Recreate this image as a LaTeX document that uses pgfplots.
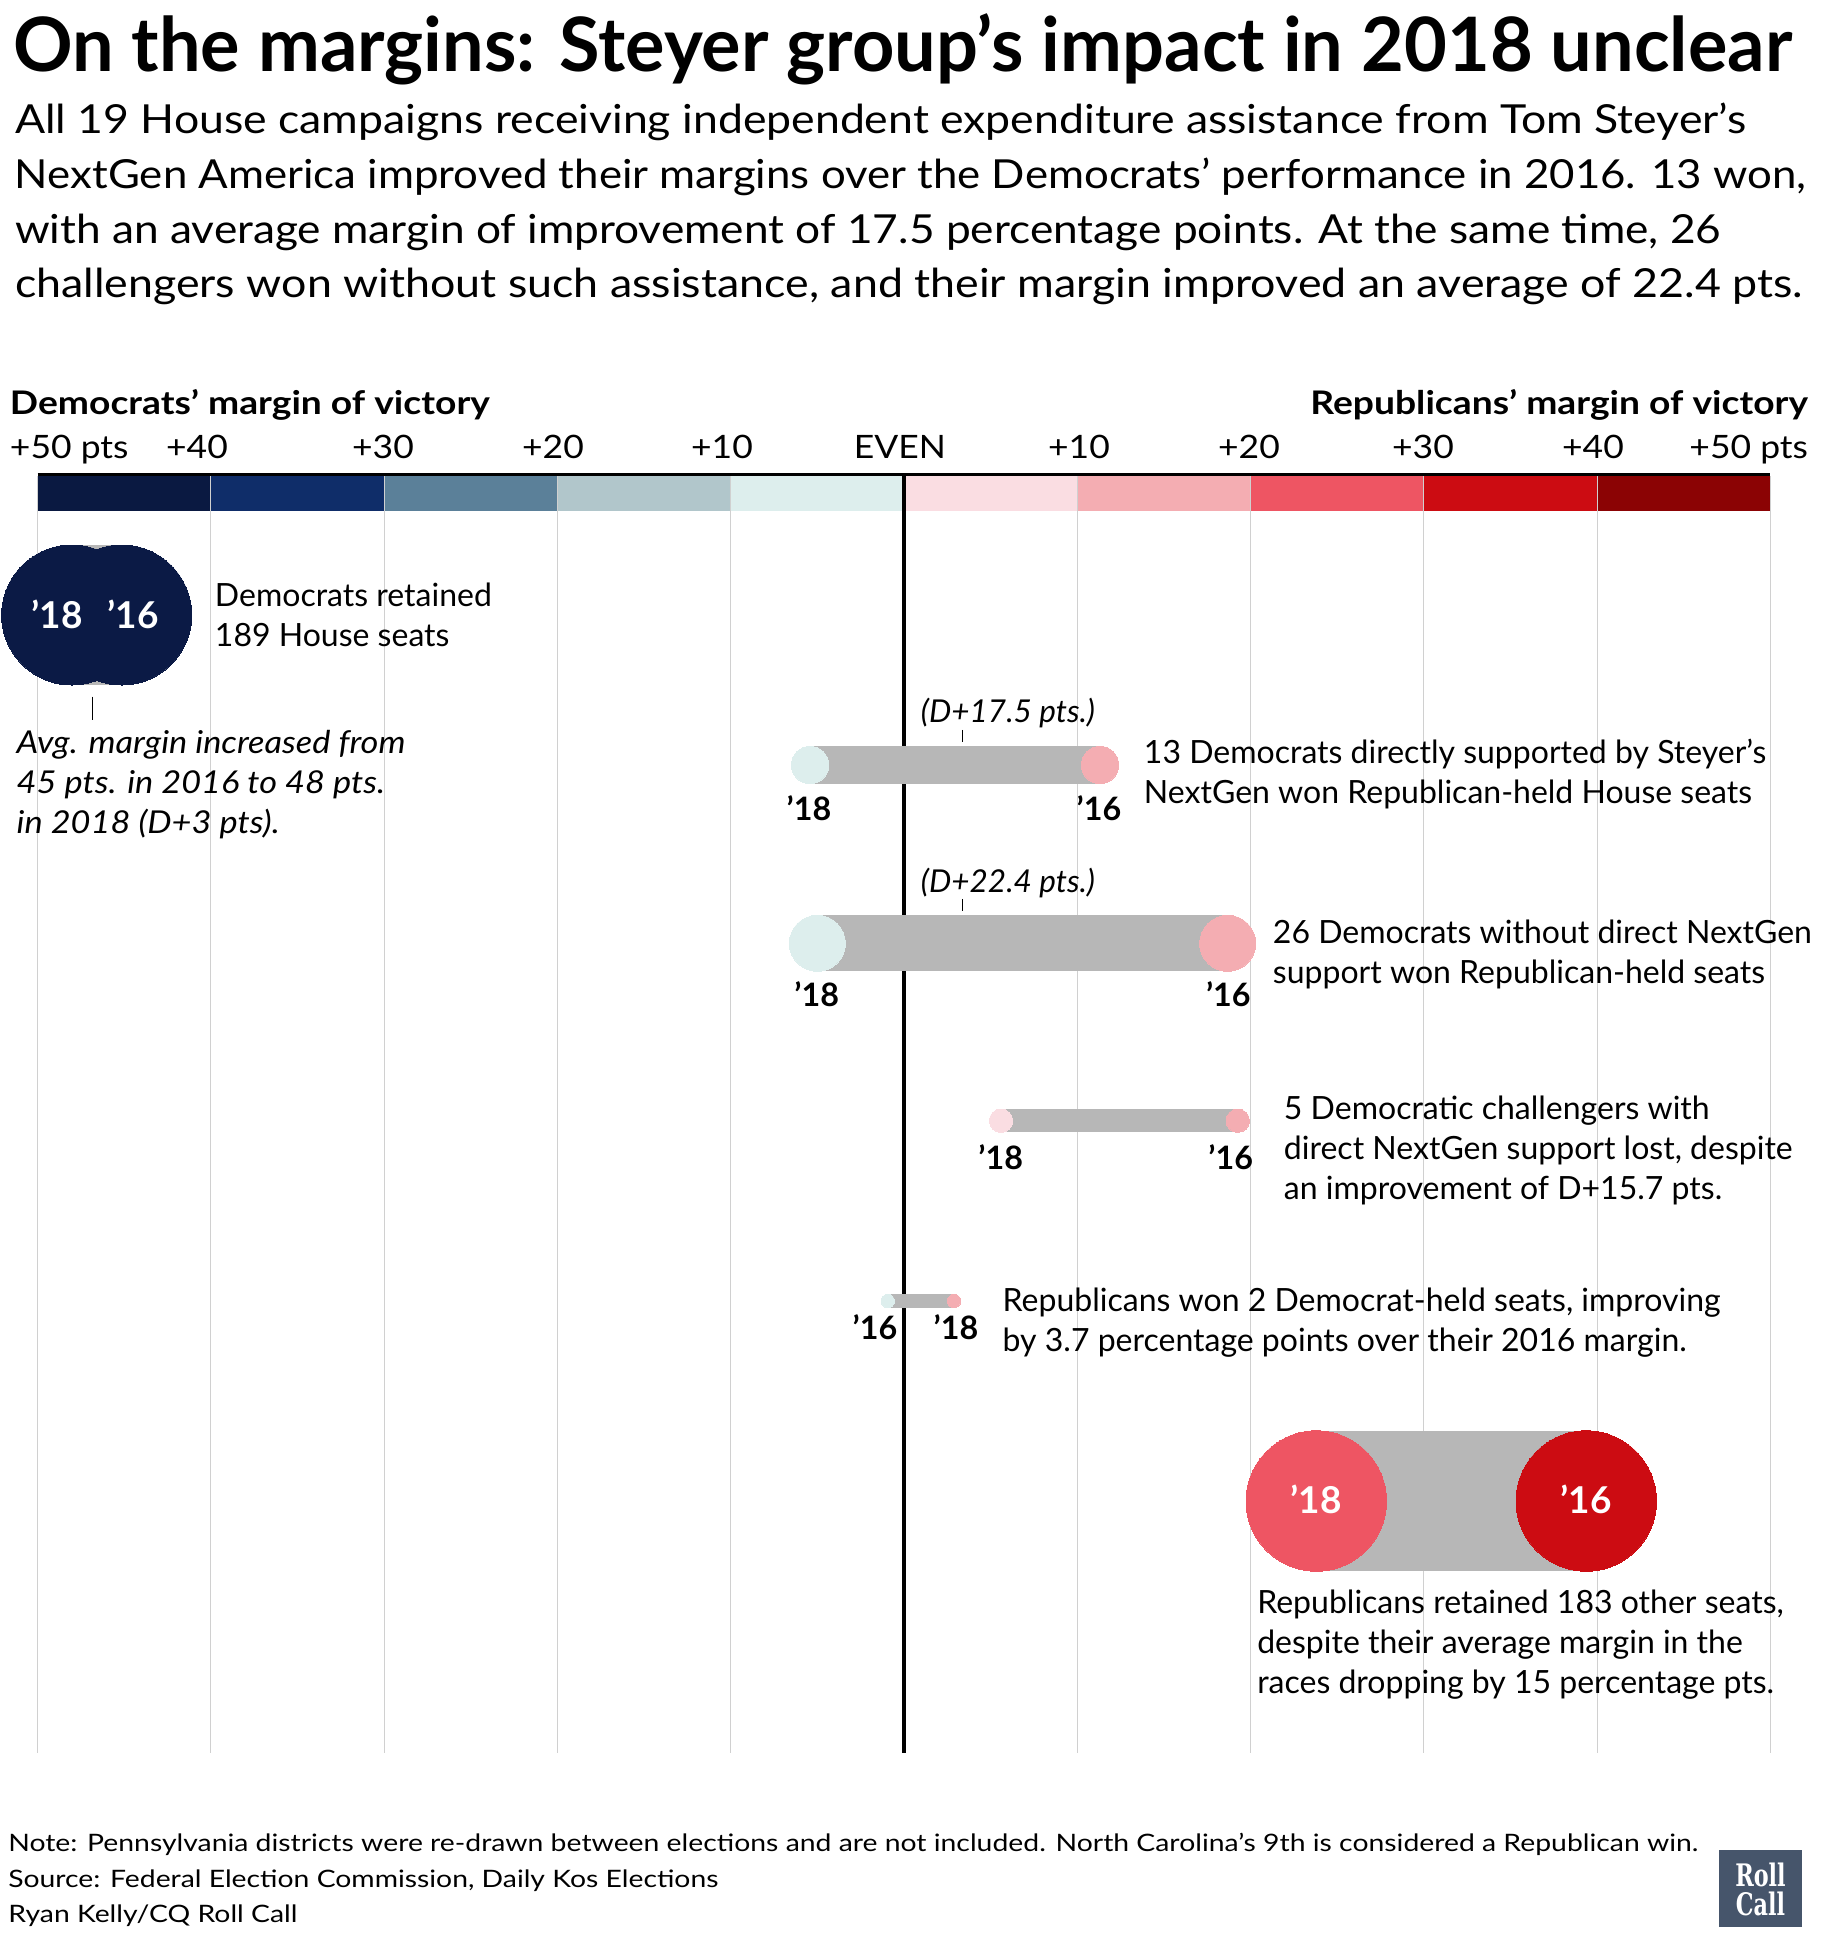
\documentclass[border=0pt]{standalone}
\usepackage{fontspec}
\setmainfont{Lato}
\newfontfamily\logofont{DejaVu Serif}
\usepackage{graphicx}
\usepackage{pgfplots}
\pgfplotsset{compat=1.18}

\definecolor{c1}{HTML}{0A1941}
\definecolor{c2}{HTML}{0F2D69}
\definecolor{c3}{HTML}{5B8099}
\definecolor{c4}{HTML}{B1C6CB}
\definecolor{c5}{HTML}{DDEEED}
\definecolor{c6}{HTML}{FADDE2}
\definecolor{c7}{HTML}{F4ADB2}
\definecolor{c8}{HTML}{EE5563}
\definecolor{c9}{HTML}{CC0C12}
\definecolor{c10}{HTML}{8B0304}
\definecolor{barg}{HTML}{B7B7B7}
\definecolor{gridc}{HTML}{D0D0D0}
\definecolor{navy}{HTML}{0B1A45}
\definecolor{logoc}{HTML}{46556B}

% font sizes (1 px of the reference = 0.4pt)
\newcommand\fnote{\fontsize{12.8}{16}\selectfont}
\newcommand\ftick{\fontsize{12.9}{16}\selectfont}
\newcommand\fit{\fontsize{12.6}{16}\selectfont\itshape}
\newcommand\flab{\fontsize{12.9}{16}\selectfont\bfseries}
\newcommand\fbig{\fontsize{14.8}{18}\selectfont\bfseries}
\newcommand\fhead{\fontsize{13}{16}\selectfont\bfseries}
\newcommand\fsub{\fontsize{16}{20}\selectfont}
\newcommand\ffoot{\fontsize{9.6}{12}\selectfont}
\newcommand\hs[2]{\scalebox{#1}[1]{#2}}

\begin{document}
\begin{tikzpicture}
\begin{axis}[at={(0,0)}, anchor=south west, scale only axis,
    width=728.4pt, height=780pt,
    xmin=-52.164, xmax=52.914, ymin=0, ymax=1950, y dir=reverse,
    axis lines=none, ticks=none, clip=false]

% colour scale of margins
\fill[c1]  (axis cs:-50,476) rectangle (axis cs:-40,510.7);
\fill[c2]  (axis cs:-40,476) rectangle (axis cs:-30,510.7);
\fill[c3]  (axis cs:-30,476) rectangle (axis cs:-20,510.7);
\fill[c4]  (axis cs:-20,476) rectangle (axis cs:-10,510.7);
\fill[c5]  (axis cs:-10,476) rectangle (axis cs:0,510.7);
\fill[c6]  (axis cs:0,476) rectangle (axis cs:10,510.7);
\fill[c7]  (axis cs:10,476) rectangle (axis cs:20,510.7);
\fill[c8]  (axis cs:20,476) rectangle (axis cs:30,510.7);
\fill[c9]  (axis cs:30,476) rectangle (axis cs:40,510.7);
\fill[c10] (axis cs:40,476) rectangle (axis cs:50,510.7);

% grid
\addplot[gridc, line width=0.45pt] coordinates {(-50,476) (-50,1753)};
\addplot[gridc, line width=0.45pt] coordinates {(-40,476) (-40,1753)};
\addplot[gridc, line width=0.45pt] coordinates {(-30,476) (-30,1753)};
\addplot[gridc, line width=0.45pt] coordinates {(-20,476) (-20,1753)};
\addplot[gridc, line width=0.45pt] coordinates {(-10,476) (-10,1753)};
\addplot[gridc, line width=0.45pt] coordinates {(10,476) (10,1753)};
\addplot[gridc, line width=0.45pt] coordinates {(20,476) (20,1753)};
\addplot[gridc, line width=0.45pt] coordinates {(30,476) (30,1753)};
\addplot[gridc, line width=0.45pt] coordinates {(40,476) (40,1753)};
\addplot[gridc, line width=0.45pt] coordinates {(50,476) (50,1753)};
\addplot[black, line width=1.1pt] coordinates {(-50,474.7) (50,474.7)};
\addplot[black, line width=1.4pt] coordinates {(0,473.5) (0,1753)};

% Democrats retained 189 seats
\addplot[barg, line width=56pt] coordinates {(-48.03,615) (-45.14,615)};
\addplot[only marks, mark=*, mark size=28pt, navy, mark options={line width=0pt}]
    coordinates {(-48.03,615) (-45.14,615)};

% 13 NextGen-supported winners
\addplot[barg, line width=14.96pt] coordinates {(-5.42,765) (11.31,765)};
\addplot[only marks, mark=*, mark size=7.48pt, c5, mark options={line width=0pt}]
    coordinates {(-5.42,765)};
\addplot[only marks, mark=*, mark size=7.48pt, c7, mark options={line width=0pt}]
    coordinates {(11.31,765)};

% 26 winners without NextGen
\addplot[barg, line width=22.4pt] coordinates {(-5.0,943.3) (18.68,943.3)};
\addplot[only marks, mark=*, mark size=11.2pt, c5, mark options={line width=0pt}]
    coordinates {(-5.0,943.3)};
\addplot[only marks, mark=*, mark size=11.2pt, c7, mark options={line width=0pt}]
    coordinates {(18.68,943.3)};

% 5 challengers lost
\addplot[barg, line width=9.36pt] coordinates {(5.6,1120.7) (19.26,1120.7)};
\addplot[only marks, mark=*, mark size=4.68pt, c6, mark options={line width=0pt}]
    coordinates {(5.6,1120.7)};
\addplot[only marks, mark=*, mark size=4.68pt, c7, mark options={line width=0pt}]
    coordinates {(19.26,1120.7)};

% Republicans won 2 Democrat-held seats
\addplot[barg, line width=5.36pt] coordinates {(-0.94,1301) (2.89,1301)};
\addplot[only marks, mark=*, mark size=2.68pt, c5, mark options={line width=0pt}]
    coordinates {(-0.94,1301)};
\addplot[only marks, mark=*, mark size=2.68pt, c7, mark options={line width=0pt}]
    coordinates {(2.89,1301)};

% Republicans retained 183 seats
\addplot[barg, line width=56.2pt] coordinates {(23.79,1501) (39.37,1501)};
\addplot[only marks, mark=*, mark size=28.1pt, c8, mark options={line width=0pt}]
    coordinates {(23.79,1501)};
\addplot[only marks, mark=*, mark size=28.1pt, c9, mark options={line width=0pt}]
    coordinates {(39.37,1501)};
\end{axis}

\begin{scope}[x=0.4pt, y=-0.4pt, shift={(0,780pt)}]
\tikzset{every node/.style={inner sep=0pt, outer sep=0pt}}
% title and subtitle
\node[anchor=base west] at (13,72) {\resizebox{711.6pt}{\height}{\fontsize{30}{34}\selectfont\bfseries On the margins: Steyer group’s impact in 2018 unclear}};
\node[anchor=base west] at (15,133.5) {\resizebox{692.4pt}{\height}{\fsub All 19 House campaigns receiving independent expenditure assistance from Tom Steyer’s}};
\node[anchor=base west] at (15,188.3) {\resizebox{716.4pt}{\height}{\fsub NextGen America improved their margins over the Democrats’ performance in 2016. 13 won,}};
\node[anchor=base west] at (15,243.2) {\resizebox{682.4pt}{\height}{\fsub with an average margin of improvement of 17.5 percentage points. At the same time, 26}};
\node[anchor=base west] at (15,298) {\resizebox{715.2pt}{\height}{\fsub challengers won without such assistance, and their margin improved an average of 22.4 pts.}};

% scale header
\node[anchor=base west, font=\fhead] at (10,415) {\hs{1.145}{Democrats’ margin of victory}};
\node[anchor=base east, font=\fhead] at (1808,415) {\hs{1.145}{Republicans’ margin of victory}};
\node[anchor=base west, font=\ftick] at (10,458.3) {\hs{1.1}{+50 pts}};
\node[anchor=base, font=\ftick] at (197,458.3) {\hs{1.1}{+40}};
\node[anchor=base, font=\ftick] at (383,458.3) {\hs{1.1}{+30}};
\node[anchor=base, font=\ftick] at (553,458.3) {\hs{1.1}{+20}};
\node[anchor=base, font=\ftick] at (722,458.3) {\hs{1.1}{+10}};
\node[anchor=base, font=\ftick] at (900,458.3) {\hs{1.1}{EVEN}};
\node[anchor=base, font=\ftick] at (1079,458.3) {\hs{1.1}{+10}};
\node[anchor=base, font=\ftick] at (1249,458.3) {\hs{1.1}{+20}};
\node[anchor=base, font=\ftick] at (1423,458.3) {\hs{1.1}{+30}};
\node[anchor=base, font=\ftick] at (1593,458.3) {\hs{1.1}{+40}};
\node[anchor=base east, font=\ftick] at (1808,458.3) {\hs{1.1}{+50 pts}};

% row 1
\node[anchor=base, font=\fbig, text=white] at (57,628.3) {’18};
\node[anchor=base, font=\fbig, text=white] at (133,628.3) {’16};
\node[anchor=base west, font=\fnote] at (215,607) {Democrats retained};
\node[anchor=base west, font=\fnote] at (215,647) {189 House seats};
\draw[black, line width=0.5pt] (92.3,696.7) -- (92.3,720);
\node[anchor=base west, font=\fit] at (16.7,753.3) {\hs{1.09}{Avg. margin increased from}};
\node[anchor=base west, font=\fit] at (16.7,793.3) {\hs{1.09}{45 pts. in 2016 to 48 pts.}};
\node[anchor=base west, font=\fit] at (16.7,833.3) {\hs{1.09}{in 2018 (D+3 pts).}};

% row 2
\node[anchor=base west, font=\fit] at (921,723) {(D+17.5 pts.)};
\draw[black, line width=0.5pt] (962.3,730) -- (962.3,741.7);
\node[anchor=base, font=\flab] at (809,820.7) {’18};
\node[anchor=base, font=\flab] at (1099,820.7) {’16};
\node[anchor=base west, font=\fnote] at (1144,764) {13 Democrats directly supported by Steyer’s};
\node[anchor=base west, font=\fnote] at (1144,804) {NextGen won Republican-held House seats};

% row 3
\node[anchor=base west, font=\fit] at (921,892.3) {(D+22.4 pts.)};
\draw[black, line width=0.5pt] (962.3,899) -- (962.3,910.7);
\node[anchor=base, font=\flab] at (816.7,1006.7) {’18};
\node[anchor=base, font=\flab] at (1228.3,1006.7) {’16};
\node[anchor=base west, font=\fnote] at (1273,944) {26 Democrats without direct NextGen};
\node[anchor=base west, font=\fnote] at (1273,984) {support won Republican-held seats};

% row 4
\node[anchor=base, font=\flab] at (1000.7,1169.3) {’18};
\node[anchor=base, font=\flab] at (1230.7,1169.3) {’16};
\node[anchor=base west, font=\fnote] at (1284,1120) {5 Democratic challengers with};
\node[anchor=base west, font=\fnote] at (1284,1160) {direct NextGen support lost, despite};
\node[anchor=base west, font=\fnote] at (1284,1200) {an improvement of D+15.7 pts.};

% row 5
\node[anchor=base, font=\flab] at (875,1339.3) {’16};
\node[anchor=base, font=\flab] at (956,1339.3) {’18};
\node[anchor=base west, font=\fnote] at (1002.7,1311.7) {Republicans won 2 Democrat-held seats, improving};
\node[anchor=base west, font=\fnote] at (1002.7,1351.7) {by 3.7 percentage points over their 2016 margin.};

% row 6
\node[anchor=base, font=\fbig, text=white] at (1316,1513.3) {’18};
\node[anchor=base, font=\fbig, text=white] at (1586,1513.3) {’16};
\node[anchor=base west, font=\fnote] at (1257.3,1613.3) {Republicans retained 183 other seats,};
\node[anchor=base west, font=\fnote] at (1257.3,1653.3) {despite their average margin in the};
\node[anchor=base west, font=\fnote] at (1257.3,1693.3) {races dropping by 15 percentage pts.};

% footer
\node[anchor=base west] at (8.3,1851.7) {\resizebox{676pt}{\height}{\ffoot Note: Pennsylvania districts were re-drawn between elections and are not included. North Carolina’s 9th is considered a Republican win.}};
\node[anchor=base west, font=\ffoot] at (8.3,1887.3) {\hs{1.18}{Source: Federal Election Commission, Daily Kos Elections}};
\node[anchor=base west, font=\ffoot] at (8.3,1922.7) {\hs{1.18}{Ryan Kelly/CQ Roll Call}};

% logo
\fill[logoc] (1719,1850) rectangle (1802,1927);
\node[anchor=base, text=white] at (1760.5,1886.7) {\scalebox{0.72}[1]{\fontsize{12.4}{14}\logofont\bfseries Roll}};
\node[anchor=base, text=white] at (1760.5,1915.7) {\scalebox{0.72}[1]{\fontsize{12.4}{14}\logofont\bfseries Call}};
\end{scope}

\pgfresetboundingbox
\path[use as bounding box] (0,0) rectangle (728.4pt,780pt);
\end{tikzpicture}
\end{document}
